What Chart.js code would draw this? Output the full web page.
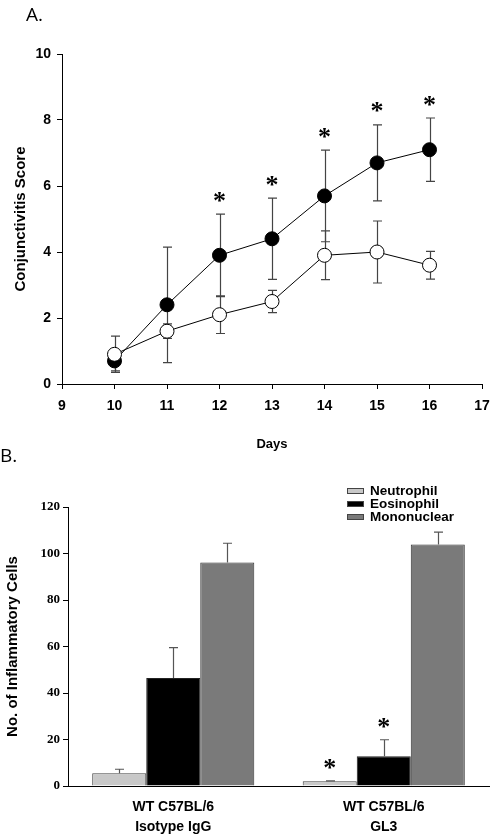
<!DOCTYPE html>
<html>
<head>
<meta charset="utf-8">
<script src="https://cdn.jsdelivr.net/npm/chart.js@4.4.1/dist/chart.umd.min.js"></script>
<style>
  body { margin: 0; background: #fff; }
  #contenedor { position: relative; width: 492px; height: 837px; }
  .panel { position: absolute; left: 0; width: 492px; }
  .etiqueta { position: absolute; font-family: 'Open Sans', sans-serif; font-size: 19px; color: #000; line-height: 1; }
</style>
</head>
<body>
<div id="contenedor">
  <div class="panel" style="top:0;height:452px"><canvas id="graficaA"></canvas></div>
  <div class="etiqueta" style="left:26px;top:5px">A.</div>
  <div class="panel" style="top:452px;height:385px"><canvas id="graficaB"></canvas></div>
  <div class="etiqueta" style="left:0;top:446px">B.</div>
</div>
<script>
// Panel A: puntaje de conjuntivitis por día
const dias = [10, 11, 12, 13, 14, 15, 16];
const mediaControl = [0.9, 1.6, 2.1, 2.5, 3.9, 4.0, 3.6];
const errorControl = [0.55, 0.22, 0.57, 0.34, 0.74, 0.94, 0.42];
const mediaTratado = [0.7, 2.4, 3.9, 4.4, 5.7, 6.7, 7.1];
const errorTratado = [0.3, 1.75, 1.25, 1.23, 1.39, 1.15, 0.96];
const diasSignificativos = [12, 13, 14, 15, 16];

// Panel B: células inflamatorias
const grupos = [['WT C57BL/6', 'Isotype IgG'], ['WT C57BL/6', 'GL3']];
const neutrofilos = [5.5, 2.0];
const errorNeutrofilos = [1.7, 0.2];
const eosinofilos = [46.5, 12.8];
const errorEosinofilos = [13.0, 7.1];
const mononucleares = [96.1, 103.9];
const errorMononucleares = [8.3, 5.3];
const sigNeutrofilos = [false, true];
const sigEosinofilos = [false, true];
const sigMononucleares = [false, false];

const fuenteSans = '"Liberation Sans", Arial, sans-serif';
const fuenteSerif = '"Liberation Serif", "Times New Roman", serif';

const valorDe = (punto) => (typeof punto === 'object' ? punto.y : punto);

const barrasError = {
  id: 'barrasError',
  beforeDatasetsDraw(chart, args, opts) {
    if (opts.capa === 'antes') dibujarErrores(chart, opts);
  },
  afterDatasetsDraw(chart, args, opts) {
    if (opts.capa === 'despues') dibujarErrores(chart, opts);
  }
};

function dibujarErrores(chart, opts) {
  const { ctx } = chart;
  const escalaY = chart.scales.y;
  ctx.save();
  ctx.strokeStyle = opts.color;
  ctx.lineWidth = opts.grosor;
  chart.data.datasets.forEach((ds, i) => {
    const meta = chart.getDatasetMeta(i);
    meta.data.forEach((el, j) => {
      const v = valorDe(ds.data[j]);
      const e = ds.errores[j];
      const x = Math.round(el.x) + 0.5;
      const arriba = escalaY.getPixelForValue(v + e);
      const abajo = opts.soloArriba ? escalaY.getPixelForValue(v) : escalaY.getPixelForValue(v - e);
      ctx.beginPath();
      ctx.moveTo(x, abajo);
      ctx.lineTo(x, arriba);
      ctx.moveTo(x - opts.ancho / 2, arriba);
      ctx.lineTo(x + opts.ancho / 2, arriba);
      if (!opts.soloArriba) {
        ctx.moveTo(x - opts.ancho / 2, abajo);
        ctx.lineTo(x + opts.ancho / 2, abajo);
      }
      ctx.stroke();
    });
  });
  ctx.restore();
}

const asteriscos = {
  id: 'asteriscos',
  afterDatasetsDraw(chart, args, opts) {
    const { ctx } = chart;
    const escalaY = chart.scales.y;
    ctx.save();
    ctx.fillStyle = '#000';
    ctx.font = opts.fuente;
    ctx.textAlign = 'center';
    ctx.textBaseline = 'alphabetic';
    chart.data.datasets.forEach((ds, i) => {
      if (!ds.asteriscos) return;
      const meta = chart.getDatasetMeta(i);
      meta.data.forEach((el, j) => {
        if (!ds.asteriscos[j]) return;
        const v = valorDe(ds.data[j]);
        const y = escalaY.getPixelForValue(v + ds.errores[j]);
        ctx.fillText('*', el.x, y - opts.separacion);
      });
    });
    ctx.restore();
  }
};

const leyendaCaja = {
  id: 'leyendaCaja',
  afterDraw(chart, args, opts) {
    const { ctx } = chart;
    ctx.save();
    ctx.font = 'bold 13.5px ' + fuenteSans;
    ctx.textBaseline = 'middle';
    chart.data.datasets.forEach((ds, i) => {
      const y = opts.y + i * opts.paso;
      ctx.fillStyle = ds.backgroundColor;
      ctx.fillRect(opts.x, y - 3, 17, 6);
      ctx.strokeStyle = '#444';
      ctx.lineWidth = 1;
      ctx.strokeRect(opts.x + 0.5, y - 2.5, 16, 5);
      ctx.fillStyle = '#000';
      ctx.fillText(ds.label, opts.x + 23, y);
    });
    ctx.restore();
  }
};

new Chart(document.getElementById('graficaA'), {
  type: 'line',
  data: {
    datasets: [{
      label: 'Control',
      data: dias.map((d, i) => ({ x: d, y: mediaControl[i] })),
      errores: errorControl,
      borderColor: '#000',
      borderWidth: 1,
      pointRadius: 7,
      pointHoverRadius: 7,
      pointBackgroundColor: '#fff',
      pointBorderColor: '#000',
      pointBorderWidth: 1
    }, {
      label: 'GL3',
      data: dias.map((d, i) => ({ x: d, y: mediaTratado[i] })),
      errores: errorTratado,
      asteriscos: dias.map((d) => diasSignificativos.includes(d)),
      borderColor: '#000',
      borderWidth: 1,
      pointRadius: 7,
      pointHoverRadius: 7,
      pointBackgroundColor: '#000',
      pointBorderColor: '#000',
      pointBorderWidth: 1
    }]
  },
  options: {
    responsive: true,
    maintainAspectRatio: false,
    animation: false,
    events: [],
    layout: { padding: { top: 54, right: 10, left: 0, bottom: 0 } },
    plugins: {
      legend: { display: false },
      tooltip: { enabled: false },
      barrasError: { capa: 'antes', color: '#444', grosor: 1.2, ancho: 9, soloArriba: false },
      asteriscos: { fuente: 'bold 26px ' + fuenteSerif, separacion: 5.5 }
    },
    scales: {
      x: {
        type: 'linear',
        min: 9,
        max: 17,
        ticks: { stepSize: 1, color: '#000', padding: 9, font: { family: fuenteSans, weight: 'bold', size: 14 } },
        grid: { drawOnChartArea: false, color: '#000', tickLength: 5 },
        border: { color: '#000' },
        title: { display: true, text: 'Days', color: '#000', padding: { top: 0, bottom: 0 }, font: { family: fuenteSans, weight: 'bold', size: 13 } },
        afterFit: (escala) => {
          escala.height = 68;
          escala.paddingRight = 0;
        }
      },
      y: {
        min: 0,
        max: 10,
        ticks: { stepSize: 2, color: '#000', padding: 6, font: { family: fuenteSans, weight: 'bold', size: 14 } },
        grid: { drawOnChartArea: false, color: '#000', tickLength: 5 },
        border: { color: '#000' },
        title: { display: true, text: 'Conjunctivitis Score', color: '#000', padding: { top: 12, bottom: 0 }, font: { family: fuenteSans, weight: 'bold', size: 15 } },
        afterFit: (escala) => { escala.width = 62; }
      }
    }
  },
  plugins: [barrasError, asteriscos]
});

new Chart(document.getElementById('graficaB'), {
  type: 'bar',
  data: {
    labels: grupos,
    datasets: [{
      label: 'Neutrophil',
      data: neutrofilos,
      errores: errorNeutrofilos,
      asteriscos: sigNeutrofilos,
      backgroundColor: '#c8c8c8',
      borderColor: '#444',
      borderWidth: 1
    }, {
      label: 'Eosinophil',
      data: eosinofilos,
      errores: errorEosinofilos,
      asteriscos: sigEosinofilos,
      backgroundColor: '#000',
      borderColor: '#222',
      borderWidth: 1
    }, {
      label: 'Mononuclear',
      data: mononucleares,
      errores: errorMononucleares,
      asteriscos: sigMononucleares,
      backgroundColor: '#7a7a7a',
      borderColor: '#333',
      borderWidth: 1
    }]
  },
  options: {
    responsive: true,
    maintainAspectRatio: false,
    animation: false,
    events: [],
    datasets: { bar: { barPercentage: 1, categoryPercentage: 0.77 } },
    layout: { padding: { top: 55, right: 3, left: 0, bottom: 0 } },
    plugins: {
      legend: { display: false },
      tooltip: { enabled: false },
      barrasError: { capa: 'despues', color: '#555', grosor: 1.2, ancho: 9, soloArriba: true },
      asteriscos: { fuente: 'bold 26px ' + fuenteSerif, separacion: 4.5 },
      leyendaCaja: { x: 347, y: 39, paso: 13 }
    },
    scales: {
      x: {
        ticks: { color: '#000', padding: 11, font: { family: fuenteSans, weight: 'bold', size: 14, lineHeight: 1.43 } },
        grid: { display: false, drawTicks: false },
        border: { color: '#000' },
        afterFit: (escala) => { escala.height = 51; }
      },
      y: {
        min: 0,
        max: 120,
        ticks: { stepSize: 20, color: '#000', padding: 3, font: { family: fuenteSerif, weight: 'bold', size: 13 } },
        grid: { drawOnChartArea: false, color: '#000', tickLength: 5 },
        border: { color: '#000' },
        title: { display: true, text: 'No. of Inflammatory Cells', color: '#000', padding: { top: 4, bottom: 0 }, font: { family: fuenteSans, weight: 'bold', size: 15 } },
        afterFit: (escala) => { escala.width = 68; }
      }
    }
  },
  plugins: [barrasError, asteriscos, leyendaCaja]
});
</script>
</body>
</html>
